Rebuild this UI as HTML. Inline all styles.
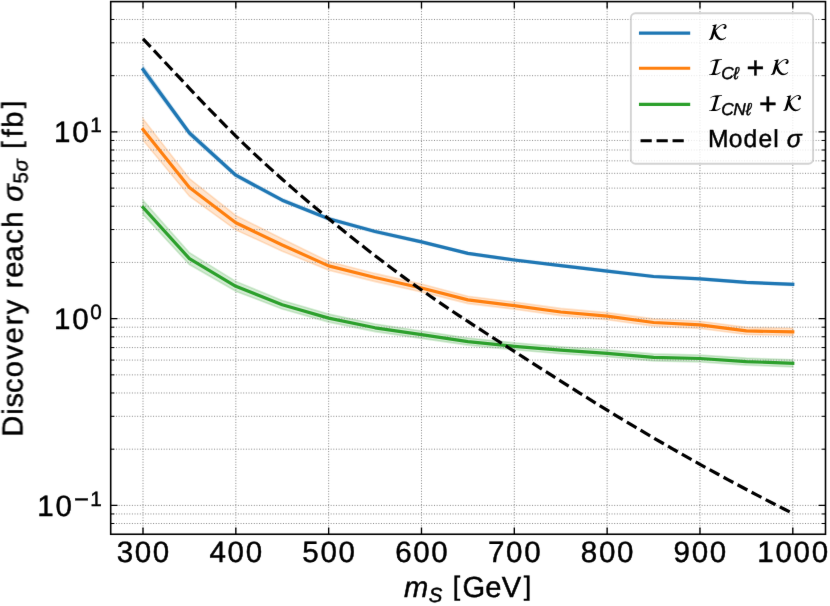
<!DOCTYPE html>
<html lang="en"><head><meta charset="utf-8"><title>Discovery reach vs m_S</title>
<style>html,body{margin:0;padding:0;background:#fff}svg{display:block;will-change:transform}text{font-family:"Liberation Sans",sans-serif;fill:#000;stroke:#000;stroke-width:.45px;white-space:pre;text-rendering:geometricPrecision}.i{font-style:italic}</style></head><body>
<svg width="830" height="606" viewBox="0 0 830 606">
<filter id="soft" x="0" y="0" width="830" height="606" filterUnits="userSpaceOnUse" color-interpolation-filters="sRGB"><feConvolveMatrix order="3" kernelMatrix=".0028 .0470 .0028 .0470 .8008 .0470 .0028 .0470 .0028" edgeMode="duplicate" preserveAlpha="true"/></filter>
<g filter="url(#soft)">
<rect width="830" height="606" fill="#fff"/>
<defs><clipPath id="ax"><rect x="110.7" y="1.6" width="714.8" height="532.65"/></clipPath></defs>
<g clip-path="url(#ax)">
<polygon points="143,66 189.41,130.6 235.83,173.4 282.24,198.6 328.66,217.25 375.07,230.05 421.49,240.6 467.9,252.2 514.31,258.8 560.73,264.4 607.14,269.9 653.56,275.3 699.97,277.6 746.39,281.2 792.8,283.2 792.8,285.6 746.39,283.6 699.97,280 653.56,277.7 607.14,272.3 560.73,266.8 514.31,261.2 467.9,254.6 421.49,243.2 375.07,232.85 328.66,220.25 282.24,201.8 235.83,177 189.41,135.4 143,73" fill="#1f77b4" fill-opacity=".2" stroke="#1f77b4" stroke-opacity=".2" stroke-width="1.6" stroke-linejoin="miter"/>
<polygon points="143,118.7 189.41,178.6 235.83,215.5 282.24,238.8 328.66,261.5 375.07,273.4 421.49,284 467.9,296.2 514.31,302 560.73,308.4 607.14,312.6 653.56,318.9 699.97,321.3 746.39,327.3 792.8,328.3 792.8,335.5 746.39,334.5 699.97,328.5 653.56,326.1 607.14,319.8 560.73,315.6 514.31,309.2 467.9,303.6 421.49,292 375.07,281.6 328.66,270.3 282.24,251.2 235.83,229.9 189.41,196.2 143,140.3" fill="#ff7f0e" fill-opacity=".2" stroke="#ff7f0e" stroke-opacity=".2" stroke-width="1.6" stroke-linejoin="miter"/>
<polygon points="143,200.4 189.41,252.7 235.83,281.4 282.24,300.5 328.66,314.1 375.07,324 421.49,331 467.9,338.1 514.31,342.8 560.73,346.7 607.14,349.8 653.56,353.9 699.97,355 746.39,358.1 792.8,359.7 792.8,366.9 746.39,365.1 699.97,362 653.56,360.9 607.14,356.8 560.73,353.7 514.31,349.8 467.9,345.1 421.49,338.4 375.07,331.6 328.66,322.1 282.24,309.1 235.83,291.2 189.41,264.5 143,214.4" fill="#2ca02c" fill-opacity=".2" stroke="#2ca02c" stroke-opacity=".2" stroke-width="1.6" stroke-linejoin="miter"/>
<path d="M143 534.25V1.6M235.83 534.25V1.6M328.66 534.25V1.6M421.49 534.25V1.6M514.31 534.25V1.6M607.14 534.25V1.6M699.97 534.25V1.6M792.8 534.25V1.6M110.7 131.9H825.5M110.7 318.65H825.5M110.7 505.4H825.5M110.7 523.5H825.5M110.7 513.95H825.5M110.7 449.18H825.5M110.7 416.3H825.5M110.7 392.97H825.5M110.7 374.87H825.5M110.7 360.08H825.5M110.7 347.58H825.5M110.7 336.75H825.5M110.7 327.2H825.5M110.7 262.43H825.5M110.7 229.55H825.5M110.7 206.22H825.5M110.7 188.12H825.5M110.7 173.33H825.5M110.7 160.83H825.5M110.7 150H825.5M110.7 140.45H825.5M110.7 75.68H825.5M110.7 42.8H825.5M110.7 19.47H825.5" fill="none" stroke="#8a8a8a" stroke-width="1" stroke-dasharray="1 1.65"/>
<polyline points="143,69.5 189.41,133 235.83,175.2 282.24,200.2 328.66,218.75 375.07,231.45 421.49,241.9 467.9,253.4 514.31,260 560.73,265.6 607.14,271.1 653.56,276.5 699.97,278.8 746.39,282.4 792.8,284.4" fill="none" stroke="#1f77b4" stroke-width="3.2" stroke-linejoin="round" stroke-linecap="square"/>
<polyline points="143,129.5 189.41,187.4 235.83,222.7 282.24,245 328.66,265.9 375.07,277.5 421.49,288 467.9,299.9 514.31,305.6 560.73,312 607.14,316.2 653.56,322.5 699.97,324.9 746.39,330.9 792.8,331.9" fill="none" stroke="#ff7f0e" stroke-width="3.2" stroke-linejoin="round" stroke-linecap="square"/>
<polyline points="143,207.4 189.41,258.6 235.83,286.3 282.24,304.8 328.66,318.1 375.07,327.8 421.49,334.7 467.9,341.6 514.31,346.3 560.73,350.2 607.14,353.3 653.56,357.4 699.97,358.5 746.39,361.6 792.8,363.3" fill="none" stroke="#2ca02c" stroke-width="3.2" stroke-linejoin="round" stroke-linecap="square"/>
<polyline points="143,38.8 152.28,48.68 161.57,58.59 170.85,68.52 180.13,78.44 189.41,88.32 198.7,98.12 207.98,107.82 217.26,117.39 226.55,126.8 235.83,136.03 245.11,145.05 254.39,153.86 263.68,162.49 272.96,170.94 282.24,179.24 291.53,187.38 300.81,195.39 310.09,203.27 319.37,211.04 328.66,218.71 337.94,226.3 347.22,233.79 356.51,241.19 365.79,248.49 375.07,255.69 384.35,262.78 393.64,269.76 402.92,276.63 412.2,283.37 421.49,289.99 430.77,296.48 440.05,302.86 449.33,309.14 458.62,315.34 467.9,321.45 477.18,327.51 486.47,333.52 495.75,339.5 505.03,345.46 514.31,351.41 523.6,357.37 532.88,363.32 542.16,369.27 551.45,375.21 560.73,381.12 570.01,387 579.29,392.85 588.58,398.65 597.86,404.42 607.14,410.13 616.43,415.78 625.71,421.38 634.99,426.93 644.27,432.42 653.56,437.86 662.84,443.25 672.12,448.58 681.41,453.87 690.69,459.1 699.97,464.28 709.25,469.42 718.54,474.5 727.82,479.54 737.1,484.53 746.39,489.47 755.67,494.37 764.95,499.22 774.23,504.02 783.52,508.78 792.8,513.5" fill="none" stroke="#000" stroke-width="3.2" stroke-dasharray="11.1 4.8" stroke-linejoin="round"/>
</g>
<path d="M143 534.25v-6.8M143 1.6v6.8M235.83 534.25v-6.8M235.83 1.6v6.8M328.66 534.25v-6.8M328.66 1.6v6.8M421.49 534.25v-6.8M421.49 1.6v6.8M514.31 534.25v-6.8M514.31 1.6v6.8M607.14 534.25v-6.8M607.14 1.6v6.8M699.97 534.25v-6.8M699.97 1.6v6.8M792.8 534.25v-6.8M792.8 1.6v6.8M110.7 131.9h6.8M825.5 131.9h-6.8M110.7 318.65h6.8M825.5 318.65h-6.8M110.7 505.4h6.8M825.5 505.4h-6.8" fill="none" stroke="#000" stroke-width="1.35"/>
<path d="M110.7 523.5h3.6M825.5 523.5h-3.6M110.7 513.95h3.6M825.5 513.95h-3.6M110.7 449.18h3.6M825.5 449.18h-3.6M110.7 416.3h3.6M825.5 416.3h-3.6M110.7 392.97h3.6M825.5 392.97h-3.6M110.7 374.87h3.6M825.5 374.87h-3.6M110.7 360.08h3.6M825.5 360.08h-3.6M110.7 347.58h3.6M825.5 347.58h-3.6M110.7 336.75h3.6M825.5 336.75h-3.6M110.7 327.2h3.6M825.5 327.2h-3.6M110.7 262.43h3.6M825.5 262.43h-3.6M110.7 229.55h3.6M825.5 229.55h-3.6M110.7 206.22h3.6M825.5 206.22h-3.6M110.7 188.12h3.6M825.5 188.12h-3.6M110.7 173.33h3.6M825.5 173.33h-3.6M110.7 160.83h3.6M825.5 160.83h-3.6M110.7 150h3.6M825.5 150h-3.6M110.7 140.45h3.6M825.5 140.45h-3.6M110.7 75.68h3.6M825.5 75.68h-3.6M110.7 42.8h3.6M825.5 42.8h-3.6M110.7 19.47h3.6M825.5 19.47h-3.6" fill="none" stroke="#000" stroke-width="1"/>
<rect x="110.7" y="1.6" width="714.8" height="532.65" fill="none" stroke="#000" stroke-width="1.6"/>
<text transform="translate(115.9 562.2)"><tspan font-size="29.54" x="0.85 18.88 36.95" y="0">300</tspan></text>
<text transform="translate(208.73 562.2)"><tspan font-size="29.54" x="0.81 18.88 36.95" y="0">400</tspan></text>
<text transform="translate(301.55 562.2)"><tspan font-size="29.54" x="0.7 18.88 36.95" y="0">500</tspan></text>
<text transform="translate(394.38 562.2)"><tspan font-size="29.54" x="0.82 18.88 36.95" y="0">600</tspan></text>
<text transform="translate(487.21 562.2)"><tspan font-size="29.54" x="0.76 18.88 36.95" y="0">700</tspan></text>
<text transform="translate(580.04 562.2)"><tspan font-size="29.54" x="0.81 18.88 36.95" y="0">800</tspan></text>
<text transform="translate(672.87 562.2)"><tspan font-size="29.54" x="0.72 18.88 36.95" y="0">900</tspan></text>
<text transform="translate(756.66 562.2)"><tspan font-size="29.54" x="0.67 18.88 36.95 55.02" y="0">1000</tspan></text>
<text transform="translate(53.33 142.4)"><tspan font-size="29.54" x="0.67 18.88" y="0">10</tspan><tspan font-size="20.68" x="36.88" y="-10.22">1</tspan></text>
<text transform="translate(53.33 329.15)"><tspan font-size="29.54" x="0.67 18.88" y="0">10</tspan><tspan font-size="20.68" x="36.98" y="-10.22">0</tspan></text>
<text transform="translate(36.67 515.9)"><tspan font-size="29.54" x="0.67 18.88" y="0">10</tspan><tspan font-size="25.61" x="37.25" y="-7.94">−</tspan><tspan font-size="20.68" x="53.53" y="-10.22">1</tspan></text>
<text transform="translate(402.6 597.3)"><tspan class="i" font-size="29.12" x="1.48" y="0">m</tspan><tspan class="i" font-size="20.38" x="26.27 38.49" y="4.59">S </tspan><tspan font-size="26.78" x="50.12" y="-1.87">[</tspan><tspan font-size="29.12" x="59.82 82.58 99.09" y="0">GeV</tspan><tspan font-size="26.78" x="121.13" y="-1.87">]</tspan></text>
<text transform="translate(22.55 437) rotate(-90)"><tspan font-size="29.12" x="0.31 22.23 29.55 44.01 59.8 77.46 93.6 111.7 122.76 140.23 148.69 159.32 175.4 193.22 209.32 226.79" y="0">Discovery reach </tspan><tspan class="i" font-size="29.12" x="235.35" y="0">σ</tspan><tspan font-size="20.38" x="253.4" y="4.59">5</tspan><tspan class="i" font-size="20.38" x="265.51 277.74" y="4.59">σ </tspan><tspan font-size="26.78" x="288.21" y="-1.87">[</tspan><tspan font-size="29.12" x="299.64 309.22" y="0">fb</tspan><tspan font-size="26.78" x="328.78" y="-1.87">]</tspan></text>
<rect x="630.9" y="13.3" width="182.2" height="150.4" rx="4.6" fill="#fff" fill-opacity=".8" stroke="#c8c8c8" stroke-opacity=".8" stroke-width="1.9"/>
<path d="M640.55 33.15H688.6" stroke="#1f77b4" stroke-width="3.2" stroke-linecap="square"/>
<path d="M640.55 68.25H688.6" stroke="#ff7f0e" stroke-width="3.2" stroke-linecap="square"/>
<path d="M640.55 104.45H688.6" stroke="#2ca02c" stroke-width="3.2" stroke-linecap="square"/>
<path d="M640.55 140.75H688.6" stroke="#000" stroke-width="3.2" stroke-dasharray="11.2 4.8"/>
<defs><path id="cK" d="M1971 2874L2010 2854Q2528 3430 3142 3859Q3757 4288 4275 4288Q4621 4288 4816 4105Q5011 3923 5011 3622Q5011 3354 4864 3158Q4717 2963 4486 2963Q4346 2963 4256 3059Q4166 3155 4166 3290Q4166 3411 4220 3481Q4275 3552 4342 3574Q4410 3597 4464 3648Q4518 3699 4518 3782Q4518 3878 4441 3955Q4365 4032 4230 4032Q3789 4032 3232 3635Q2675 3238 2118 2566Q2336 1587 2835 960Q3334 333 3904 333Q4122 333 4371 464Q4621 595 4768 806L4896 704Q4723 474 4569 326Q4416 179 4128 48Q3840 -83 3488 -83Q2886 -83 2371 477Q1856 1037 1690 1709L1434 813Q1280 262 1049 131Q819 0 192 0L237 154Q429 154 557 374Q685 595 858 1197L1517 3514Q1542 3590 1542 3661Q1542 3853 1242 3853Q1171 3853 1126 3846L1158 4006Q1882 4083 2355 4237L1971 2874z"/><path id="cI" d="M3782 4237L3744 4083Q3482 4083 3347 4067Q3213 4051 3069 3977Q2925 3904 2838 3753Q2752 3603 2675 3334L1920 710Q1901 634 1901 557Q1901 352 2208 352Q2790 352 3283 819L3398 698Q3008 320 2566 160Q2125 0 1549 0L243 0L282 154Q467 154 556 160Q646 166 777 201Q909 237 982 310Q1056 384 1139 521Q1222 659 1280 870L1946 3187Q2061 3590 2061 3674Q2061 3878 1754 3878Q1523 3878 1203 3750Q883 3622 678 3411L570 3533Q947 3904 1385 4070Q1824 4237 2579 4237L3782 4237z"/></defs>
<use href="#cK" transform="translate(708.03 40) scale(0.003703 -0.003703)"><title>K</title></use>
<use href="#cI" transform="translate(708.03 75) scale(0.003703 -0.003703)"><title>I</title></use>
<text transform="translate(708.03 75)"><tspan class="i" font-size="17.25" x="13.21 25.21" y="3.89">Cℓ</tspan><tspan font-size="30.54" x="38.58" y="2.72">+</tspan></text>
<use href="#cK" transform="translate(770.06 75) scale(0.003703 -0.003703)"><title>K</title></use>
<use href="#cI" transform="translate(708.03 111) scale(0.003703 -0.003703)"><title>I</title></use>
<text transform="translate(708.03 111)"><tspan class="i" font-size="17.25" x="13.21 25.14 37.62" y="3.89">CNℓ</tspan><tspan font-size="30.54" x="50.99" y="2.72">+</tspan></text>
<use href="#cK" transform="translate(782.47 111) scale(0.003703 -0.003703)"><title>K</title></use>
<text transform="translate(708.03 147)"><tspan font-size="24.65" x="-0.04 20.85 35.47 50.48 65.13 79.92" y="0">Model </tspan><tspan class="i" font-size="24.65" x="78.84" y="0">σ</tspan></text>
</g></svg></body></html>
